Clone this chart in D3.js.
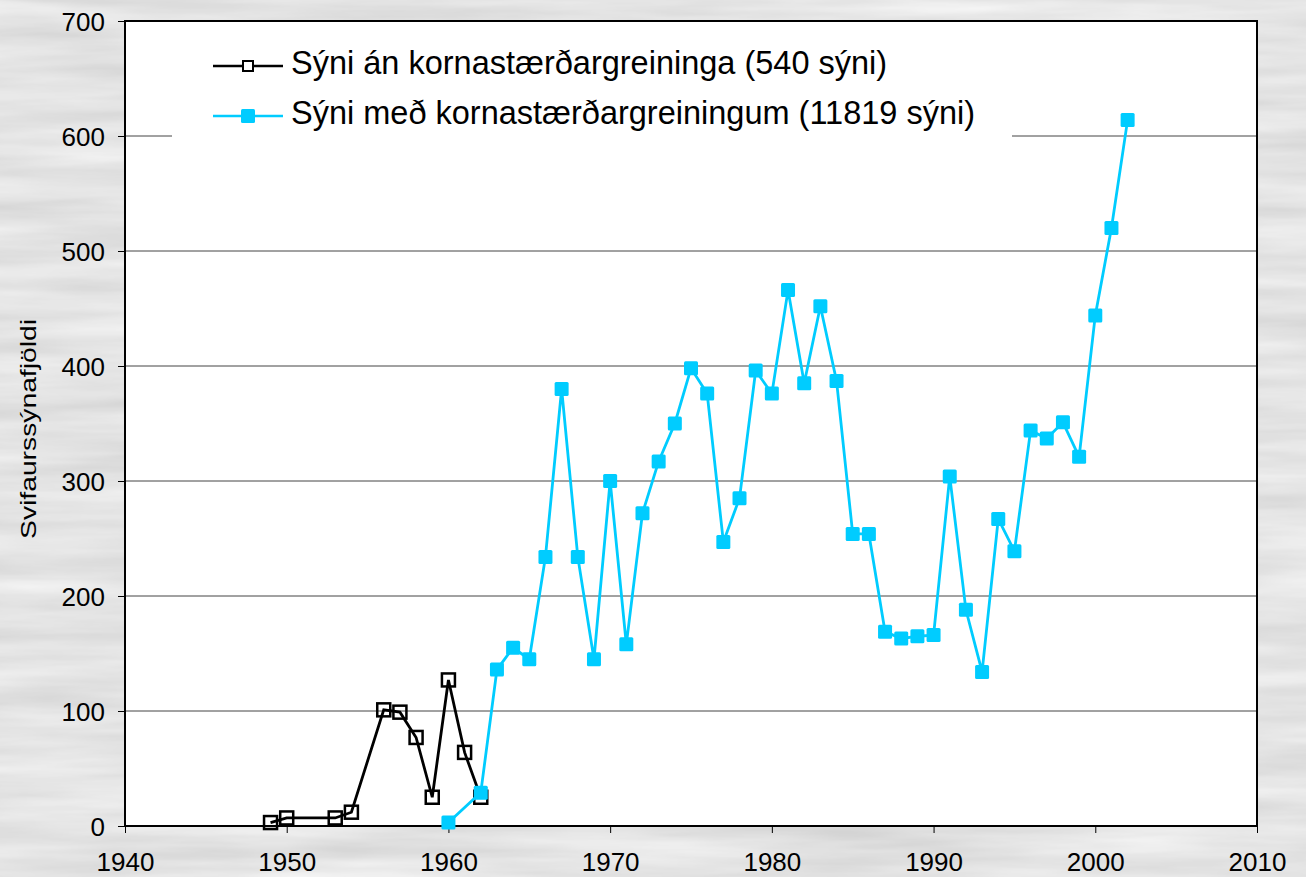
<!DOCTYPE html>
<html>
<head>
<meta charset="utf-8">
<script src="https://cdnjs.cloudflare.com/ajax/libs/d3/7.8.5/d3.min.js"></script>
<style>
  html, body { margin: 0; padding: 0; background: #e9e9e9; }
  svg { display: block; }
  text { font-family: "Liberation Sans", Arial, sans-serif; fill: #000; }
</style>
</head>
<body>
<svg id="chart" width="1306" height="877"></svg>
<script>
// samples without grain-size analysis (black)
var yearsA = [1949, 1950, 1953, 1954, 1956, 1957, 1958, 1959, 1960, 1961, 1962];
var valuesA = [3, 7, 7, 12, 101, 99, 77, 25, 127, 64, 25];

// samples with grain-size analysis (cyan)
var yearsB = [1960, 1962, 1963, 1964, 1965, 1966, 1967, 1968, 1969, 1970, 1971, 1972,
  1973, 1974, 1975, 1976, 1977, 1978, 1979, 1980, 1981, 1982, 1983, 1984, 1985, 1986,
  1987, 1988, 1989, 1990, 1991, 1992, 1993, 1994, 1995, 1996, 1997, 1998, 1999, 2000,
  2001, 2002];
var valuesB = [3, 29, 136, 155, 145, 234, 380, 234, 145, 300, 158, 272,
  317, 350, 398, 376, 247, 285, 396, 376, 466, 385, 452, 387, 254, 254,
  169, 163, 165, 166, 304, 188, 134, 267, 239, 344, 337, 351, 321, 444,
  520, 614];

var xTicks = [1940, 1950, 1960, 1970, 1980, 1990, 2000, 2010];
var yTicks = [0, 100, 200, 300, 400, 500, 600, 700];
var legendLabels = ["Sýni án kornastærðargreininga (540 sýni)",
                    "Sýni með kornastærðargreiningum (11819 sýni)"];
var yTitle = "Svifaurssýnafjöldi";

var svg = d3.select("#chart");
var W = 1306, H = 877;
var pLeft = 125, pRight = 1257, pTop = 21, pBottom = 826;
var cyan = "#00CCFF";

// cloudy water background
var defs = svg.append("defs");
var f = defs.append("filter").attr("id", "clouds")
    .attr("x", 0).attr("y", 0).attr("width", "100%").attr("height", "100%");
f.append("feTurbulence").attr("type", "fractalNoise")
    .attr("baseFrequency", "0.004 0.045").attr("numOctaves", 4).attr("seed", 7);
f.append("feColorMatrix").attr("type", "matrix")
    .attr("values", "0 0 0 0 0.97  0 0 0 0 0.97  0 0 0 0 0.97  0 0 0 -1.0 0.9");
svg.append("rect").attr("width", W).attr("height", H).attr("fill", "#d4d4d4");
svg.append("rect").attr("width", W).attr("height", H).attr("filter", "url(#clouds)");

var x = d3.scaleLinear().domain([1940, 2010]).range([pLeft, pRight]);
var y = d3.scaleLinear().domain([0, 700]).range([pBottom, pTop]);

// plot area
svg.append("rect").attr("x", pLeft).attr("y", pTop)
    .attr("width", pRight - pLeft).attr("height", pBottom - pTop).attr("fill", "#fff");

// gridlines
svg.append("g").selectAll("line").data(yTicks.slice(1, -1)).enter().append("line")
    .attr("x1", pLeft).attr("x2", pRight)
    .attr("y1", d => y(d)).attr("y2", d => y(d))
    .attr("stroke", "#444").attr("stroke-width", 1);

// axes
var yAxis = d3.axisLeft(y).tickValues(yTicks).tickSize(7).tickPadding(13);
var gy = svg.append("g").attr("transform", "translate(" + pLeft + ",0)").call(yAxis);
var xAxis = d3.axisBottom(x).tickValues(xTicks).tickFormat(d3.format("d")).tickSize(7);
var gx = svg.append("g").attr("transform", "translate(0," + pBottom + ")").call(xAxis);
[gx, gy].forEach(function (g) {
  g.attr("font-size", null).attr("font-family", null);
  g.select(".domain").remove();
  g.selectAll("line").attr("stroke", "#000").attr("stroke-width", 1);
  g.selectAll("text").style("font-size", "26px")
    .style("font-family", "'Liberation Sans', Arial, sans-serif");
});
gy.selectAll("text").attr("dy", "0.35em");
gx.selectAll("text").attr("y", 45).attr("dy", 0);

// frame
svg.append("rect").attr("x", pLeft).attr("y", pTop)
    .attr("width", pRight - pLeft).attr("height", pBottom - pTop)
    .attr("fill", "none").attr("stroke", "#000").attr("stroke-width", 2);

// y title
svg.append("text")
    .attr("transform", "translate(36," + 429 + ") rotate(-90)")
    .attr("text-anchor", "middle").style("font-size", "22px")
    .attr("textLength", 220).attr("lengthAdjust", "spacingAndGlyphs")
    .text(yTitle);

var line = d3.line().x(d => x(d[0])).y(d => y(d[1]));
var dataA = yearsA.map((d, i) => [d, valuesA[i]]);
var dataB = yearsB.map((d, i) => [d, valuesB[i]]);

svg.append("path").datum(dataA).attr("d", line)
    .attr("fill", "none").attr("stroke", "#000").attr("stroke-width", 2.8);
svg.append("g").selectAll("rect").data(dataA).enter().append("rect")
    .attr("x", d => x(d[0]) - 6.5).attr("y", d => y(d[1]) - 6.5)
    .attr("width", 13).attr("height", 13)
    .attr("fill", "none").attr("stroke", "#000").attr("stroke-width", 2.5);

svg.append("path").datum(dataB).attr("d", line)
    .attr("fill", "none").attr("stroke", cyan).attr("stroke-width", 2.8);
svg.append("g").selectAll("rect").data(dataB).enter().append("rect")
    .attr("x", d => x(d[0]) - 7).attr("y", d => y(d[1]) - 7)
    .attr("width", 14).attr("height", 14).attr("rx", 1.5)
    .attr("fill", cyan);

// legend
var lg = svg.append("g");
lg.append("rect").attr("x", 172).attr("y", 40).attr("width", 840).attr("height", 98)
    .attr("fill", "#fff");
var rows = [66, 116];
legendLabels.forEach(function (lab, i) {
  var col = i === 0 ? "#000" : cyan;
  var ly = rows[i];
  lg.append("line").attr("x1", 213).attr("x2", 283).attr("y1", ly).attr("y2", ly)
      .attr("stroke", col).attr("stroke-width", 2.5);
  if (i === 0) {
    lg.append("rect").attr("x", 243).attr("y", ly - 5).attr("width", 10).attr("height", 10)
        .attr("fill", "#fff").attr("stroke", "#000").attr("stroke-width", 2);
  } else {
    lg.append("rect").attr("x", 241).attr("y", ly - 7).attr("width", 14).attr("height", 14)
        .attr("rx", 1.5).attr("fill", cyan);
  }
  lg.append("text").attr("x", 291).attr("y", ly + 8)
      .style("font-size", "32.5px").text(lab);
});
</script>
</body>
</html>
